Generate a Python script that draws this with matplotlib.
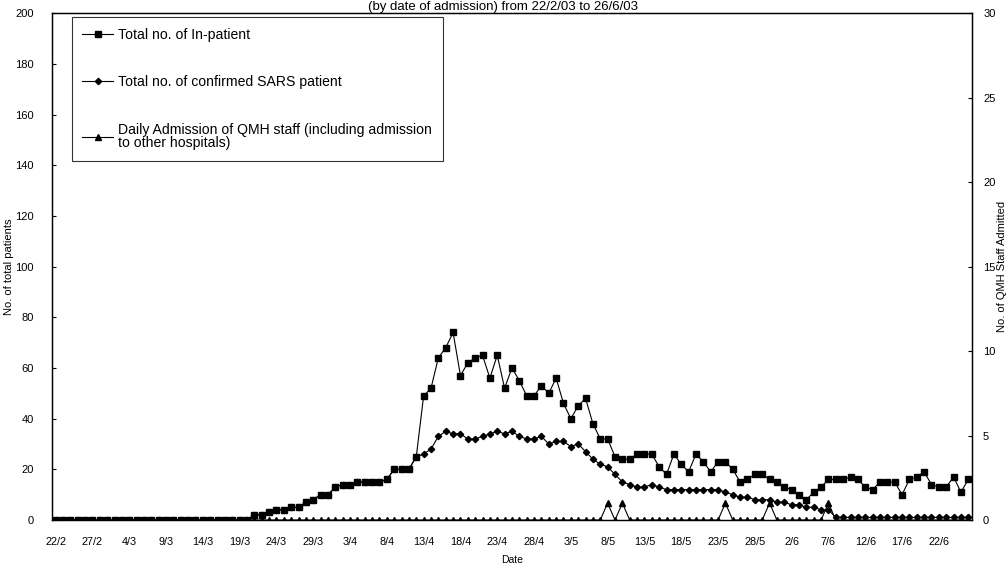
import numpy as np
import pandas as pd
import matplotlib
matplotlib.use("Agg")
import matplotlib.pyplot as plt

plt.rcParams['font.family'] = ['Liberation Sans', 'DejaVu Sans']

# one category per day of admission, 22/2/03 .. 26/6/03
dates = pd.date_range("2003-02-22", "2003-06-26", freq="D")

# total no. of in-patient (left axis)
inpatient = [
    0, 0, 0, 0, 0, 0, 0, 0, 0, 0, 0, 0, 0, 0, 0, 0, 0, 0, 0, 0, 0, 0, 0, 0, 0,
    0, 0, 2, 2, 3, 4, 4, 5, 5, 7, 8, 10, 10, 13, 14, 14, 15, 15, 15, 15, 16, 20, 20, 20, 25,
    49, 52, 64, 68, 74, 57, 62, 64, 65, 56, 65, 52, 60, 55, 49, 49, 53, 50, 56, 46, 40, 45, 48, 38, 32,
    32, 25, 24, 24, 26, 26, 26, 21, 18, 26, 22, 19, 26, 23, 19, 23, 23, 20, 15, 16, 18, 18, 16, 15, 13,
    12, 10, 8, 11, 13, 16, 16, 16, 17, 16, 13, 12, 15, 15, 15, 10, 16, 17, 19, 14, 13, 13, 17, 11, 16,
]

# total no. of confirmed SARS patient (left axis)
sars = [
    0, 0, 0, 0, 0, 0, 0, 0, 0, 0, 0, 0, 0, 0, 0, 0, 0, 0, 0, 0, 0, 0, 0, 0, 0,
    0, 0, 2, 2, 3, 4, 4, 5, 5, 7, 8, 10, 10, 13, 14, 14, 15, 15, 15, 15, 16, 20, 20, 20, 25,
    26, 28, 33, 35, 34, 34, 32, 32, 33, 34, 35, 34, 35, 33, 32, 32, 33, 30, 31, 31, 29, 30, 27, 24, 22,
    21, 18, 15, 14, 13, 13, 14, 13, 12, 12, 12, 12, 12, 12, 12, 12, 11, 10, 9, 9, 8, 8, 8, 7, 7,
    6, 6, 5, 5, 4, 4, 1, 1, 1, 1, 1, 1, 1, 1, 1, 1, 1, 1, 1, 1, 1, 1, 1, 1, 1,
]

# daily admission of QMH staff (right axis)
staff = [
    0, 0, 0, 0, 0, 0, 0, 0, 0, 0, 0, 0, 0, 0, 0, 0, 0, 0, 0, 0, 0, 0, 0, 0, 0,
    0, 0, 0, 0, 0, 0, 0, 0, 0, 0, 0, 0, 0, 0, 0, 0, 0, 0, 0, 0, 0, 0, 0, 0, 0,
    0, 0, 0, 0, 0, 0, 0, 0, 0, 0, 0, 0, 0, 0, 0, 0, 0, 0, 0, 0, 0, 0, 0, 0, 0,
    1, 0, 1, 0, 0, 0, 0, 0, 0, 0, 0, 0, 0, 0, 0, 0, 1, 0, 0, 0, 0, 0, 1, 0, 0,
    0, 0, 0, 0, 0, 1, 0, 0, 0, 0, 0, 0, 0, 0, 0, 0, 0, 0, 0, 0, 0, 0, 0, 0, 0,
]

labels = ["Total no. of In-patient",
          "Total no. of confirmed SARS patient",
          "Daily Admission of QMH staff (including admission\nto other hospitals)"]

x = np.arange(len(dates))
tick_pos = x[::5]
tick_lab = [f"{d.day}/{d.month}" for d in dates[::5]]

fig = plt.figure(figsize=(10.07, 5.76), dpi=100)
ax = fig.add_axes([0.0516, 0.0972, 0.9136, 0.880])
ax2 = ax.twinx()

l1, = ax.plot(x, inpatient, color='black', lw=0.8, marker='s', ms=4.5, label=labels[0])
l2, = ax.plot(x, sars, color='black', lw=0.8, marker='D', ms=3.2, label=labels[1])
l3, = ax2.plot(x, staff, color='black', lw=0.8, marker='^', ms=4.5, label=labels[2])

ax.set_xlim(-0.5, len(dates) - 0.5)
ax.set_ylim(0, 200)
ax2.set_ylim(0, 30)
ax.set_yticks(np.arange(0, 201, 20))
ax2.set_yticks(np.arange(0, 31, 5))
ax.set_xticks(tick_pos)
ax.set_xticklabels(tick_lab)

ax.tick_params(axis='y', direction='in', length=3, pad=13, labelsize=8)
ax2.tick_params(axis='y', direction='in', length=3, pad=8, labelsize=8)
ax.tick_params(axis='x', length=0, pad=12, labelsize=7.8)

for a in (ax, ax2):
    for s in a.spines.values():
        s.set_linewidth(0.9)
        s.set_color('black')

ax.set_xlabel("Date", fontsize=7.5, labelpad=6)
ax.set_ylabel("No. of total patients", fontsize=8)
ax.yaxis.set_label_coords(-0.041, 0.5)
ax2.set_ylabel("No. of QMH Staff Admitted", fontsize=8, rotation=90)
ax2.yaxis.set_label_coords(1.027, 0.5)

leg = ax.legend(handles=[l1, l2, l3], loc='upper left', bbox_to_anchor=(0.0217, 0.992),
                borderaxespad=0, frameon=True, fancybox=False, fontsize=10.1,
                labelspacing=2.4, handlelength=2.2, handletextpad=0.35,
                borderpad=0.75)
for t in leg.get_texts():
    t.set_linespacing(0.95)
leg.get_frame().set_edgecolor('black')
leg.get_frame().set_linewidth(0.8)

fig.text(0.5, 0.999, "(by date of admission) from 22/2/03 to 26/6/03",
         ha='center', va='top', fontsize=9.5)

fig.savefig("out.png", dpi=100)
